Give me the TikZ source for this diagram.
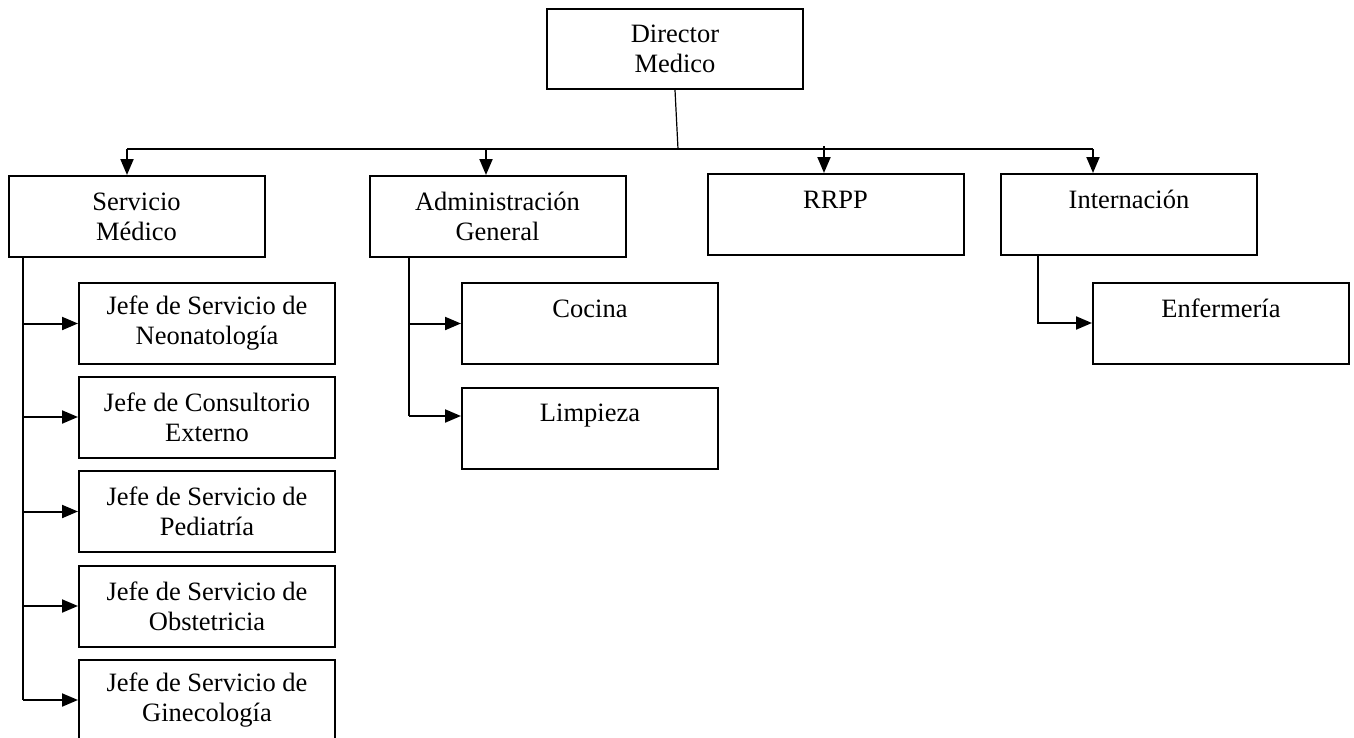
\documentclass[tikz,border=0pt]{standalone}
\usepackage{fontspec}
\setmainfont{Liberation Serif}
\usetikzlibrary{arrows.meta, positioning, calc}

\tikzset{
  cargo/.style={draw, line width=1pt, rectangle, minimum width=128pt,
    minimum height=40.5pt, inner sep=0pt, align=center,
    font=\fontsize{13.25}{15}\selectfont},
  enlace/.style={line width=1pt},
  flecha/.style={line width=1pt, -{Triangle[length=8pt, width=6.5pt]}}
}

\begin{document}
\begin{tikzpicture}
  \begin{scope}[x=0.5pt, y=-0.5pt]
    \useasboundingbox (0,0) rectangle (1354,738);
    % Director
    \node[cargo, minimum height=40pt] (dir) at (675,49) {Director\\Medico};
    % First level
    \node[cargo] (srv) at (136.5,216.5) {Servicio\\Médico};
    \node[cargo] (adm) at (497.5,216.5) {Administración\\General};
    \node[cargo] (rrpp) at (835.5,214.5) {RRPP\\\mbox{}};
    \node[cargo] (intn) at (1129,214.5) {Internación\\\mbox{}};
    % Servicio Medico children
    \node[cargo] (neo) at (207,323.5) {Jefe de Servicio de\\Neonatología};
    \node[cargo] (con) at (207,417) {Jefe de Consultorio\\Externo};
    \node[cargo] (ped) at (207,511.5) {Jefe de Servicio de\\Pediatría};
    \node[cargo] (obs) at (207,606) {Jefe de Servicio de\\Obstetricia};
    \node[cargo] (gin) at (207,700) {Jefe de Servicio de\\Ginecología};
    % Administracion children
    \node[cargo] (coc) at (590,323.5) {Cocina\\\mbox{}};
    \node[cargo] (lim) at (590,428) {Limpieza\\\mbox{}};
    % Internacion child
    \node[cargo] (enf) at (1221,323) {Enfermería\\\mbox{}};

    % Bus under the director
    \coordinate (bus) at (678,149);
    \coordinate (t1) at (127,149);
    \coordinate (t2) at (486,149);
    \coordinate (t3) at (824,146);
    \coordinate (t4) at (1093,149);
    \draw[line width=0.6pt] (dir.south) -- (bus);
    \draw[enlace] (t1) -- (t4);
    \draw[flecha] (t1) -- (t1 |- srv.north);
    \draw[flecha] (t2) -- (t2 |- adm.north);
    \draw[flecha] (t3) -- (t3 |- rrpp.north);
    \draw[flecha] (t4) -- (t4 |- intn.north);

    % Servicio Medico branch
    \coordinate (sv) at (23,0);
    \draw[enlace] (sv |- srv.south) -- (sv |- gin.west);
    \foreach \n in {neo, con, ped, obs, gin}
      \draw[flecha] (sv |- \n.west) -- (\n.west);

    % Administracion branch
    \coordinate (av) at (409,0);
    \draw[enlace] (av |- adm.south) -- ([yshift=6pt]av |- lim.west);
    \draw[flecha] (av |- coc.west) -- (coc.west);
    \draw[flecha] ([yshift=6pt]av |- lim.west) -- ([yshift=6pt]lim.west);

    % Internacion branch
    \coordinate (iv) at (1038,0);
    \draw[flecha] (iv |- intn.south) |- (enf.west);
  \end{scope}
\end{tikzpicture}
\end{document}
